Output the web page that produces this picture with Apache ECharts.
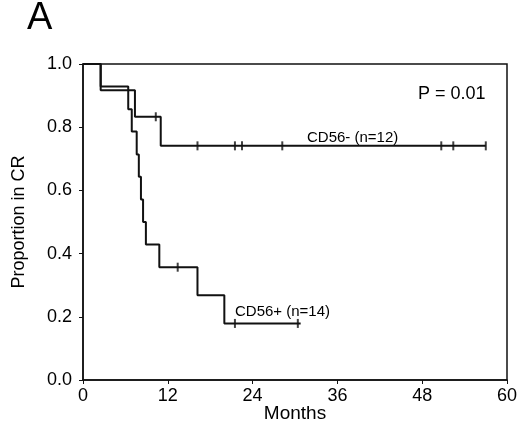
<!DOCTYPE html>
<html>
<head>
<meta charset="utf-8">
<script src="https://cdn.jsdelivr.net/npm/echarts@6/dist/echarts.min.js"></script>
<style>html,body{margin:0;padding:0;background:#fff;}#c{width:520px;height:424px;}</style>
</head>
<body>
<div id="c"></div>
<script>
// ---- Data ----
var xTicks = [0, 12, 24, 36, 48, 60];
var yTicks = [0.0, 0.2, 0.4, 0.6, 0.8, 1.0];

// CD56- (n=12)
var negEventTimes = [2.5, 7.35, 11.0];
var negSurvival   = [0.917, 0.833, 0.741];
var negCensorTimes = [10.3, 16.2, 21.5, 22.5, 28.2, 50.7, 52.4, 57.0];
var negEnd = 57.0;

// CD56+ (n=14)
var posEventTimes = [2.5, 6.4, 6.9, 7.6, 7.9, 8.2, 8.5, 8.9, 10.8, 16.2, 20.0];
var posSurvival   = [0.929, 0.857, 0.786, 0.714, 0.643, 0.571, 0.500, 0.429, 0.357, 0.268, 0.179];
var posCensorTimes = [13.4, 21.5, 30.4];
var posEnd = 30.8;

var labelNeg = 'CD56- (n=12)';
var labelPos = 'CD56+ (n=14)';
var pText = 'P = 0.01';
var panelLetter = 'A';

// ---- helpers building KM step paths from the arrays ----
function steps(times, surv, end) {
  var pts = [[0, 1]], s = 1;
  for (var i = 0; i < times.length; i++) {
    pts.push([times[i], s]);
    s = surv[i];
    pts.push([times[i], s]);
  }
  pts.push([end, s]);
  return pts;
}
function survAt(times, surv, t) {
  var s = 1;
  for (var i = 0; i < times.length; i++) if (times[i] <= t) s = surv[i];
  return s;
}
function censors(ct, times, surv) {
  return ct.map(function (t) { return [t, survAt(times, surv, t)]; });
}

var FONT = 'Liberation Sans, Arial, Helvetica, sans-serif';
var chart = echarts.init(document.getElementById('c'), null, {renderer: 'canvas'});
chart.setOption({
  animation: false,
  backgroundColor: '#fff',
  grid: {left: 83, right: 13, top: 64, bottom: 44, containLabel: false, outerBoundsMode: 'none',
    show: true, borderColor: '#111', borderWidth: 1.5, backgroundColor: 'transparent'},
  xAxis: {
    type: 'value', min: 0, max: 60, interval: 12,
    name: 'Months', nameLocation: 'middle', nameGap: 24, nameMoveOverlap: false,
    nameTextStyle: {fontSize: 19, color: '#000', fontFamily: FONT},
    axisLine: {lineStyle: {color: '#111', width: 1.5}},
    axisTick: {show: true, length: 4, lineStyle: {color: '#111', width: 1}},
    axisLabel: {fontSize: 18, color: '#000', fontFamily: FONT, margin: 7,
      formatter: function (v) { return xTicks.indexOf(v) >= 0 ? String(v) : ''; }},
    splitLine: {show: false}
  },
  yAxis: {
    type: 'value', min: 0, max: 1, interval: 0.2,
    name: 'Proportion in CR', nameLocation: 'middle', nameGap: 55, nameRotate: 90, nameMoveOverlap: false,
    nameTextStyle: {fontSize: 18, color: '#000', fontFamily: FONT},
    axisLine: {show: true, lineStyle: {color: '#111', width: 1.5}},
    axisTick: {show: true, length: 4, lineStyle: {color: '#111', width: 1}},
    axisLabel: {fontSize: 18, color: '#000', fontFamily: FONT, margin: 11,
      formatter: function (v) { return v.toFixed(1); }},
    splitLine: {show: false}
  },
  series: [
    {type: 'line', data: steps(negEventTimes, negSurvival, negEnd), showSymbol: false,
      lineStyle: {color: '#111', width: 2}, z: 3},
    {type: 'line', data: steps(posEventTimes, posSurvival, posEnd), showSymbol: false,
      lineStyle: {color: '#111', width: 2}, z: 3},
    {type: 'scatter', data: censors(negCensorTimes, negEventTimes, negSurvival),
      symbol: 'rect', symbolSize: [2, 9], itemStyle: {color: '#111'}, z: 4},
    {type: 'scatter', data: censors(posCensorTimes, posEventTimes, posSurvival),
      symbol: 'rect', symbolSize: [2, 9], itemStyle: {color: '#111'}, z: 4}
  ],
  graphic: [
    {type: 'text', left: 27, top: 0, style: {text: panelLetter, fontSize: 38, fill: '#000', fontFamily: FONT}},
    {type: 'text', x: 418, y: 94.5, style: {text: pText, fontSize: 18, fill: '#000', fontFamily: FONT, verticalAlign: 'middle'}},
    {type: 'text', x: 307, y: 138, style: {text: labelNeg, fontSize: 15, fill: '#000', fontFamily: FONT, verticalAlign: 'middle'}},
    {type: 'text', x: 235, y: 311.5, style: {text: labelPos, fontSize: 15, fill: '#000', fontFamily: FONT, verticalAlign: 'middle'}}
  ]
});
</script>
</body>
</html>
